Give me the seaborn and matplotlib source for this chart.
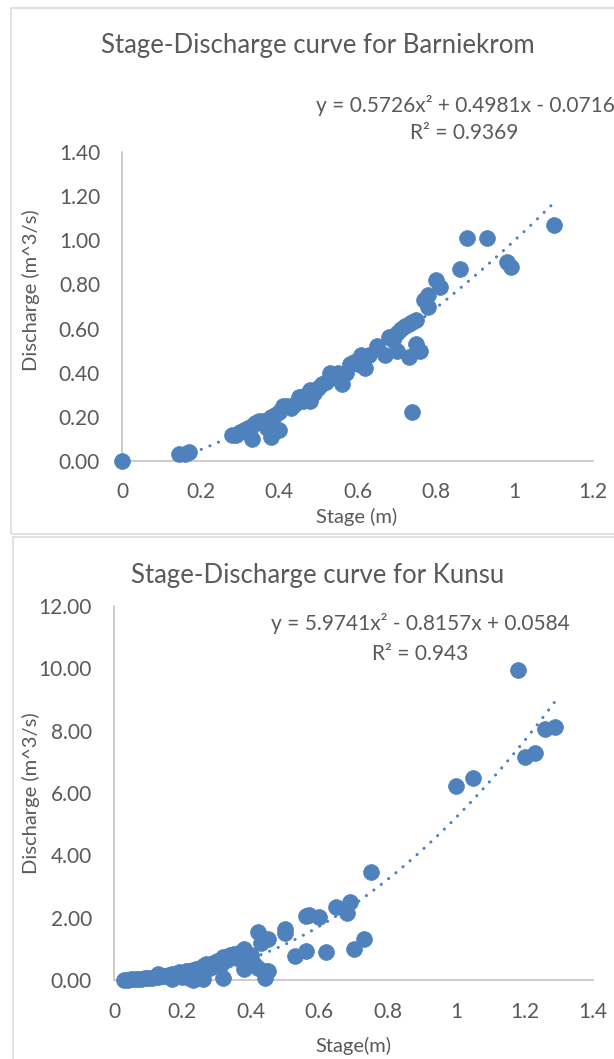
import numpy as np
import pandas as pd
import matplotlib
matplotlib.use("Agg")
import matplotlib.pyplot as plt
from matplotlib.patches import Rectangle
import seaborn as sns

# ---------------- data ----------------
barn_stage = [0.00, 0.145, 0.16, 0.17, 0.28, 0.29, 0.30, 0.31, 0.32, 0.33,
              0.33, 0.34, 0.35, 0.36, 0.37, 0.38, 0.38, 0.39, 0.40, 0.40,
              0.41, 0.42, 0.43, 0.44, 0.45, 0.46, 0.47, 0.48, 0.48, 0.49,
              0.50, 0.51, 0.52, 0.53, 0.54, 0.55, 0.56, 0.57, 0.58, 0.59,
              0.60, 0.61, 0.62, 0.63, 0.65, 0.67, 0.68, 0.69, 0.70, 0.70,
              0.71, 0.72, 0.73, 0.73, 0.74, 0.75, 0.75, 0.76, 0.74, 0.77,
              0.78, 0.78, 0.80, 0.81, 0.86, 0.88, 0.93, 0.98, 0.99, 1.10]
barn_q = [0.00, 0.03, 0.03, 0.04, 0.12, 0.12, 0.13, 0.14, 0.15, 0.16,
          0.10, 0.17, 0.18, 0.18, 0.15, 0.20, 0.11, 0.21, 0.14, 0.22,
          0.25, 0.25, 0.24, 0.26, 0.29, 0.27, 0.30, 0.32, 0.27, 0.31,
          0.33, 0.35, 0.36, 0.40, 0.38, 0.40, 0.35, 0.40, 0.44, 0.45,
          0.44, 0.48, 0.42, 0.48, 0.52, 0.48, 0.56, 0.55, 0.50, 0.58,
          0.60, 0.61, 0.62, 0.47, 0.63, 0.64, 0.53, 0.50, 0.22, 0.73,
          0.75, 0.70, 0.82, 0.79, 0.87, 1.01, 1.01, 0.90, 0.88, 1.07]
barn_coef = [0.5726, 0.4981, -0.0716]
barn_eq = "y = 0.5726x\u00b2 + 0.4981x - 0.0716"
barn_r2 = "R\u00b2 = 0.9369"

kun_stage = [0.03, 0.04, 0.05, 0.06, 0.07, 0.08, 0.09, 0.10, 0.11, 0.12,
             0.13, 0.13, 0.14, 0.15, 0.16, 0.17, 0.17, 0.18, 0.19, 0.20,
             0.20, 0.21, 0.22, 0.22, 0.23, 0.23, 0.24, 0.25, 0.26, 0.26,
             0.27, 0.28, 0.29, 0.30, 0.31, 0.32, 0.32, 0.33, 0.34, 0.35,
             0.36, 0.37, 0.38, 0.38, 0.39, 0.40, 0.41, 0.42, 0.42, 0.43,
             0.44, 0.44, 0.45, 0.45, 0.50, 0.50, 0.53, 0.56, 0.56, 0.57,
             0.60, 0.62, 0.65, 0.68, 0.69, 0.70, 0.73, 0.75, 1.00, 1.05,
             1.18, 1.20, 1.23, 1.26, 1.29]
kun_q = [0.00, 0.01, 0.02, 0.02, 0.03, 0.04, 0.05, 0.06, 0.08, 0.09,
         0.10, 0.20, 0.12, 0.13, 0.15, 0.18, 0.02, 0.20, 0.25, 0.22,
         0.10, 0.28, 0.30, 0.05, 0.33, 0.00, 0.35, 0.30, 0.45, 0.03,
         0.52, 0.40, 0.55, 0.60, 0.45, 0.75, 0.05, 0.65, 0.80, 0.85,
         0.70, 0.90, 1.00, 0.35, 0.60, 0.80, 0.50, 1.55, 0.40, 1.20,
         0.30, 0.05, 1.30, 0.30, 1.50, 1.65, 0.78, 0.92, 2.04, 2.09,
         2.02, 0.90, 2.34, 2.15, 2.49, 0.99, 1.30, 3.47, 6.21, 6.48,
         9.95, 7.17, 7.27, 8.05, 8.13]
kun_coef = [5.9741, -0.8157, 0.0584]
kun_eq = "y = 5.9741x\u00b2 - 0.8157x + 0.0584"
kun_r2 = "R\u00b2 = 0.943"

barn_xticks = [0, 0.2, 0.4, 0.6, 0.8, 1, 1.2]
barn_yticks = [0.0, 0.2, 0.4, 0.6, 0.8, 1.0, 1.2, 1.4]
kun_xticks = [0, 0.2, 0.4, 0.6, 0.8, 1, 1.2, 1.4]
kun_yticks = [0, 2, 4, 6, 8, 10, 12]

# ---------------- style ----------------
sns.set_style("white")
plt.rcParams['font.family'] = ['Lato', 'DejaVu Sans']

W, H = 614, 1059
BLUE = "#4F81BD"
TXT = "#595959"
AXC = "#BFBFBF"

fig = plt.figure(figsize=(W / 100, H / 100), dpi=100)
fig.patch.set_facecolor("white")


def fx(px):
    return px / W


def fy(py):
    return 1 - py / H


# chart area borders
fig.patches.append(Rectangle((fx(11), fy(534)), fx(W + 20 - 11), (534 - 8) / H,
                             transform=fig.transFigure, fill=False,
                             edgecolor="#D9D9D9", lw=1.1, zorder=0))
fig.patches.append(Rectangle((fx(13), fy(H + 20)), fx(W + 20 - 13), (H + 20 - 537) / H,
                             transform=fig.transFigure, fill=False,
                             edgecolor="#D9D9D9", lw=1.1, zorder=0))


def draw(ax, stage, q, coef, xlim, ylim, xticks, yticks, yfmt, ticklen, ypad, xpad):
    df = pd.DataFrame({"Stage": stage, "Discharge": q})
    sns.scatterplot(data=df, x="Stage", y="Discharge", ax=ax, color=BLUE,
                    s=130, edgecolor=BLUE, linewidth=0.5, zorder=3, legend=False)
    xs = np.linspace(min(stage), max(stage), 300)
    tr = pd.DataFrame({"x": xs, "y": np.polyval(coef, xs)})
    sns.lineplot(data=tr, x="x", y="y", ax=ax, color=BLUE, lw=2.2,
                 linestyle=(0, (0.05, 3.0)), dash_capstyle="round",
                 zorder=4, legend=False, sort=False)
    ax.set_xlim(*xlim)
    ax.set_ylim(*ylim)
    ax.set_xticks(xticks)
    ax.set_xticklabels([("%g" % t) for t in xticks])
    ax.set_yticks(yticks)
    ax.set_yticklabels([yfmt % t for t in yticks])
    ax.set_xlabel("")
    ax.set_ylabel("")
    for s in ["top", "right"]:
        ax.spines[s].set_visible(False)
    for s in ["left", "bottom"]:
        ax.spines[s].set_color(AXC)
        ax.spines[s].set_linewidth(1.1)
    ax.tick_params(axis="both", colors=AXC, labelcolor=TXT, labelsize=15,
                   length=ticklen, width=1.1, direction="out")
    ax.tick_params(axis="y", pad=ypad)
    ax.tick_params(axis="x", pad=xpad)
    ax.set_facecolor("white")
    for sp in ax.spines.values():
        sp.set_zorder(2)


# ---------------- top chart ----------------
ax1 = fig.add_axes([fx(122), fy(461), fx(593 - 122), (461 - 152) / H])
draw(ax1, barn_stage, barn_q, barn_coef, (0, 1.2), (0, 1.4),
     barn_xticks, barn_yticks, "%.2f", 4.3, 11.5, 11)
ax1.collections[0].set_clip_on(False)

fig.text(fx(318), fy(46), "Stage-Discharge curve for Barniekrom", ha="center",
         va="center", fontsize=18.5, color=TXT)
fig.text(fx(465), fy(105), barn_eq, ha="center", va="center", fontsize=15, color=TXT)
fig.text(fx(464), fy(133), barn_r2, ha="center", va="center", fontsize=15, color=TXT)
fig.text(fx(357), fy(517), "Stage (m)", ha="center", va="center", fontsize=14.5, color=TXT)
fig.text(fx(31), fy(290), "Discharge (m^3/s)", ha="center", va="center",
         rotation=90, fontsize=14.5, color=TXT)

# ---------------- bottom chart ----------------
ax2 = fig.add_axes([fx(114), fy(980), fx(593 - 114), (980 - 606) / H])
draw(ax2, kun_stage, kun_q, kun_coef, (0, 1.4), (0, 12),
     kun_xticks, kun_yticks, "%.2f", 0, 16, 16)
ax2.collections[0].set_clip_on(False)

fig.text(fx(318), fy(575), "Stage-Discharge curve for Kunsu", ha="center",
         va="center", fontsize=18.5, color=TXT)
fig.text(fx(420), fy(624), kun_eq, ha="center", va="center", fontsize=15, color=TXT)
fig.text(fx(420), fy(654), kun_r2, ha="center", va="center", fontsize=15, color=TXT)
fig.text(fx(353), fy(1046), "Stage(m)", ha="center", va="center", fontsize=14.5, color=TXT)
fig.text(fx(31), fy(793), "Discharge (m^3/s)", ha="center", va="center",
         rotation=90, fontsize=14.5, color=TXT)

fig.savefig("out.png", dpi=100, facecolor="white")
